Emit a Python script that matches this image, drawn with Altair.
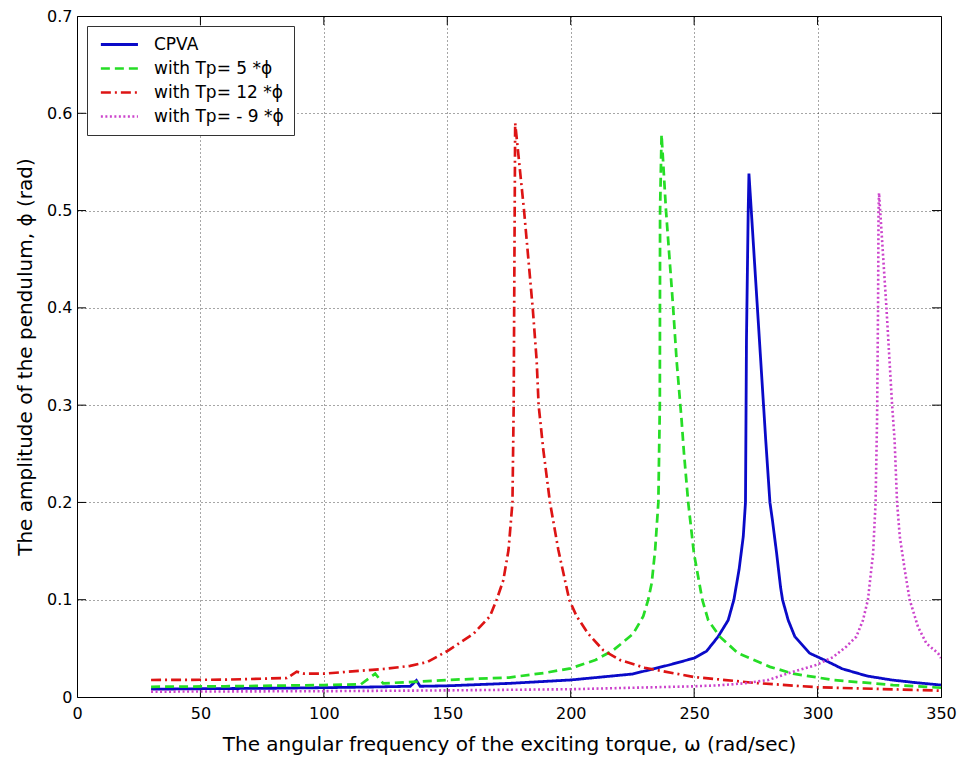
import altair as alt
import pandas as pd

FONT = "DejaVu Sans"

series_names = ["CPVA", "with Tp= 5 *ϕ", "with Tp= 12 *ϕ", "with Tp= - 9 *ϕ"]
series_colors = ["#0A0AC8", "#26DD26", "#DD1414", "#CC44CC"]
series_dash = [[1, 0], [9, 5], [10, 4, 2, 4], [2, 2.5]]
series_width = [2.8, 2.6, 2.6, 2.0]

cpva_x = [30, 50, 80, 100, 120, 135, 137.5, 139, 150, 175, 200, 225, 240, 250, 255, 259.7,
          263.8, 266.1, 268.2, 269.9, 270.8, 271.2, 271.9, 272.2, 279, 280.7, 281.7, 283.4,
          285.0, 285.8, 288.1, 290.8, 296.8, 303.6, 310, 320, 330, 340, 350]
cpva_y = [0.008, 0.0085, 0.009, 0.0096, 0.0103, 0.011, 0.017, 0.011, 0.0115, 0.014, 0.0175,
          0.0236, 0.033, 0.040, 0.047, 0.062, 0.079, 0.10, 0.131, 0.165, 0.20, 0.368, 0.50,
          0.538, 0.264, 0.20, 0.182, 0.148, 0.113, 0.10, 0.079, 0.062, 0.045, 0.037, 0.029,
          0.0216, 0.0175, 0.0147, 0.0123]

tp5_x = [30, 60, 100, 115, 120.8, 124, 150, 175, 190, 200, 210, 217.2, 225.3, 229.4, 231.4,
         232.8, 234.2, 235.5, 236.1, 236.2, 236.8, 238.6, 241.5, 242.9, 244.9, 245.9, 247.6,
         249.9, 253.3, 255.7, 260.4, 267.8, 280.7, 290.1, 306.3, 330.6, 350]
tp5_y = [0.0105, 0.011, 0.0123, 0.013, 0.024, 0.014, 0.0175, 0.020, 0.025, 0.0295, 0.038,
         0.048, 0.065, 0.083, 0.10, 0.117, 0.151, 0.20, 0.30, 0.50, 0.578, 0.50, 0.40, 0.346,
         0.285, 0.25, 0.20, 0.148, 0.10, 0.079, 0.062, 0.045, 0.031, 0.024, 0.0175, 0.0123,
         0.0095]

tp12_x = [30, 60, 85, 89, 92, 100, 110, 125, 135, 142, 150.5, 160.6, 167.3, 170.0, 172.7,
          174.8, 176.4, 176.9, 177.2, 177.5, 181.1, 184.6, 186.2, 187.0, 188.9, 191.6, 195.0,
          199.4, 202.4, 207.1, 213.2, 220, 230, 250, 275, 300, 350]
tp12_y = [0.0175, 0.0178, 0.0195, 0.026, 0.024, 0.024, 0.026, 0.029, 0.032, 0.036, 0.048,
          0.065, 0.083, 0.10, 0.12, 0.151, 0.20, 0.30, 0.45, 0.590, 0.50, 0.40, 0.346, 0.30,
          0.254, 0.20, 0.151, 0.10, 0.083, 0.065, 0.048, 0.038, 0.030, 0.0205, 0.0144, 0.010,
          0.0065]

tpm9_x = [30, 100, 150, 200, 250, 260, 270, 280, 290.1, 299.5, 306.3, 311.7, 315.7, 318.4,
          320.4, 322.5, 323.5, 324.1, 324.5, 324.7, 324.9, 327.9, 330.2, 331.2, 332.2, 333.3,
          335.3, 337.3, 340.7, 344.1, 348.8, 350]
tpm9_y = [0.0055, 0.006, 0.0068, 0.008, 0.011, 0.012, 0.014, 0.0175, 0.026, 0.033, 0.041,
          0.052, 0.062, 0.079, 0.10, 0.148, 0.20, 0.285, 0.40, 0.50, 0.518, 0.40, 0.30, 0.264,
          0.20, 0.165, 0.131, 0.10, 0.072, 0.055, 0.045, 0.040]

x_ticks = [0, 50, 100, 150, 200, 250, 300, 350]
y_ticks = [0, 0.1, 0.2, 0.3, 0.4, 0.5, 0.6, 0.7]

rows = []
for name, xs, ys in zip(series_names, [cpva_x, tp5_x, tp12_x, tpm9_x],
                        [cpva_y, tp5_y, tp12_y, tpm9_y]):
    for i, (xv, yv) in enumerate(zip(xs, ys)):
        rows.append({"series": name, "x": xv, "y": yv, "i": i})
df = pd.DataFrame(rows)

xscale = alt.Scale(domain=[0, 350], nice=False, zero=False)
yscale = alt.Scale(domain=[0, 0.7], nice=False, zero=False)

legend = alt.Legend(title=None, orient="none", legendX=10, legendY=10,
                    symbolType="M-1,0H7", symbolSize=86, symbolStrokeWidth=2.6,
                    labelFont=FONT, labelFontSize=17, labelColor="black",
                    labelOffset=40, rowPadding=6, padding=10,
                    fillColor="white", strokeColor="#333333")

lines = alt.Chart(df).mark_line(clip=True).encode(
    x=alt.X("x:Q", scale=xscale,
            axis=alt.Axis(values=x_ticks,
                          title="The angular frequency of the exciting torque, ω (rad/sec)",
                          format="d")),
    y=alt.Y("y:Q", scale=yscale,
            axis=alt.Axis(values=y_ticks, title="The amplitude of the pendulum,  ϕ (rad)",
                          format=".1~f")),
    color=alt.Color("series:N", scale=alt.Scale(domain=series_names, range=series_colors),
                    sort=series_names, legend=legend),
    strokeDash=alt.StrokeDash("series:N", scale=alt.Scale(domain=series_names, range=series_dash),
                              sort=series_names, legend=legend),
    strokeWidth=alt.StrokeWidth("series:N",
                                scale=alt.Scale(domain=series_names, range=series_width),
                                legend=None),
    order="i:Q",
)

# inward tick marks (MATLAB style)
tx = 9 / 2.471
ty = 9 / 973
tick_x_df = pd.DataFrame({"x": x_ticks[1:-1], "y0": 0.0, "y1": ty, "y2": 0.7 - ty, "y3": 0.7})
tick_y_df = pd.DataFrame({"y": y_ticks[1:-1], "x0": 0.0, "x1": tx, "x2": 350 - tx, "x3": 350.0})

tb = alt.Chart(tick_x_df).mark_rule(color="black", strokeWidth=1).encode(
    x=alt.X("x:Q", scale=xscale), y=alt.Y("y0:Q", scale=yscale), y2="y1:Q")
tt = alt.Chart(tick_x_df).mark_rule(color="black", strokeWidth=1).encode(
    x=alt.X("x:Q", scale=xscale), y=alt.Y("y2:Q", scale=yscale), y2="y3:Q")
tl = alt.Chart(tick_y_df).mark_rule(color="black", strokeWidth=1).encode(
    y=alt.Y("y:Q", scale=yscale), x=alt.X("x0:Q", scale=xscale), x2="x1:Q")
tr = alt.Chart(tick_y_df).mark_rule(color="black", strokeWidth=1).encode(
    y=alt.Y("y:Q", scale=yscale), x=alt.X("x2:Q", scale=xscale), x2="x3:Q")

chart = alt.layer(tb, tt, tl, tr, lines).properties(
    width=864, height=681,
    padding={"left": 77, "top": 16, "right": 20, "bottom": 60},
    autosize=alt.AutoSizeParams(type="none"),
    background="white",
).configure_view(
    stroke="black", strokeWidth=1
).configure_axis(
    labelFont=FONT, labelFontSize=16, labelColor="black",
    titleFont=FONT, titleFontSize=20, titleColor="black", titleFontWeight="normal",
    grid=True, gridColor="black", gridDash=[1, 3], gridOpacity=0.7, gridWidth=1,
    ticks=False, domain=False, labelFlush=False, labelOverlap=False,
).configure_axisX(
    labelPadding=8, titleY=53, titleBaseline="alphabetic",
).configure_axisY(
    labelPadding=5, titleX=-46, titleBaseline="alphabetic",
)

chart.save("out.html", embed_options={"renderer": "svg", "actions": False})
